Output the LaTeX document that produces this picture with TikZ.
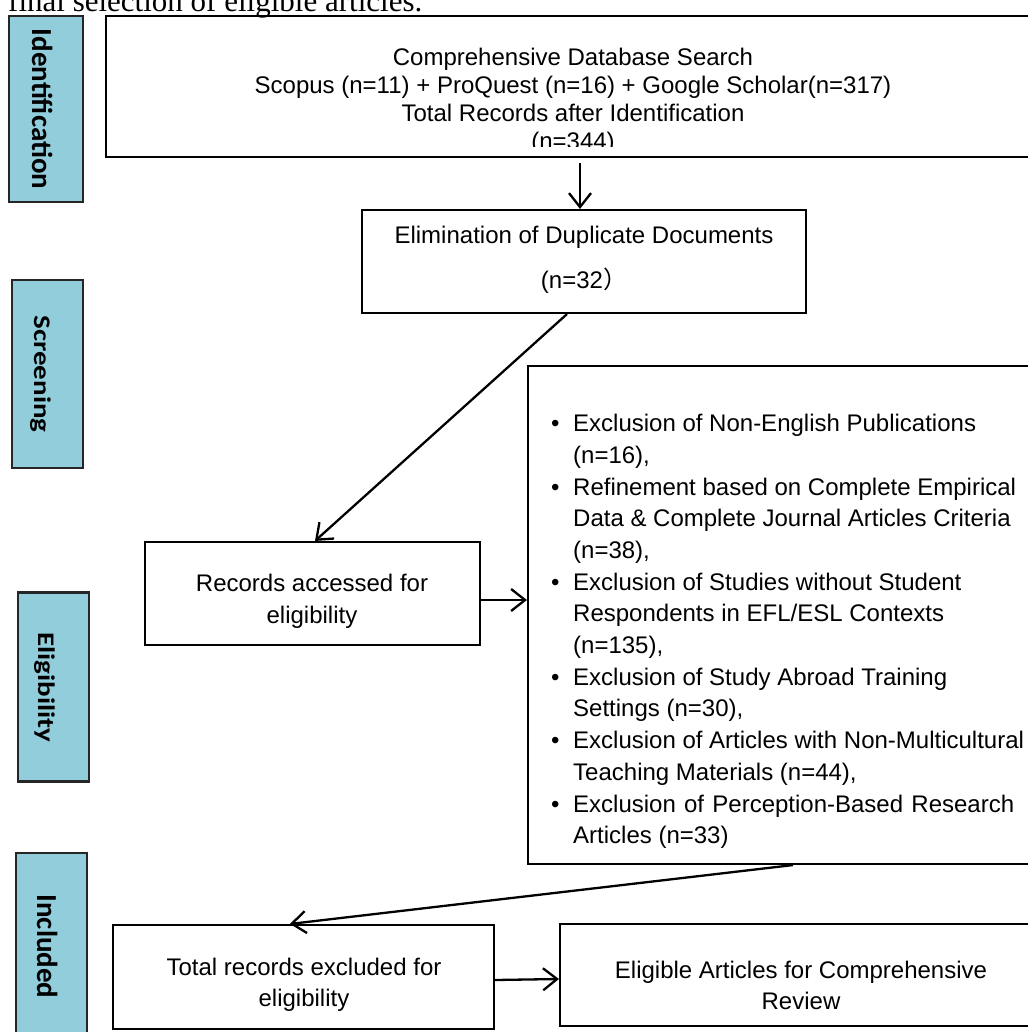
\documentclass[tikz,border=0pt]{standalone}
\usepackage{fontspec}
\setmainfont{Liberation Sans}
\newfontfamily\capfont{Liberation Serif}
\newfontfamily\sidefont{Carlito}
\newfontfamily\cjkfont{Noto Sans CJK SC}
\usetikzlibrary{arrows.meta}
\definecolor{sideblue}{HTML}{92CDDC}
\newcommand{\bul}{\makebox[24pt][l]{\hspace{1.8pt}\textbullet}}
\newcommand{\ind}{\hspace*{24pt}}
\begin{document}
\begin{tikzpicture}[x=1pt,y=-1pt,
  box/.style={draw=black, line width=2.1pt, rectangle, inner sep=0pt},
  side/.style={draw=black!85, line width=2.1pt, fill=sideblue, rectangle, inner sep=0pt},
  sidetxt/.style={font=\sidefont\bfseries\fontsize{29}{29}\selectfont, rotate=-90, anchor=base, inner sep=0pt},
  txt/.style={font=\fontsize{24}{28}\selectfont, align=center, inner sep=0pt},
  listtxt/.style={font=\fontsize{24}{31.7}\selectfont, align=left, anchor=west, inner sep=0pt},
  arr/.style={line width=2.3pt, -{Straight Barb[length=14pt,width=22pt,line width=2.3pt]}}]
\useasboundingbox (0,0) rectangle (1027,1032);

% caption (cut off at the top)
\node[anchor=base west, inner sep=0pt, font=\capfont\fontsize{31}{31}\selectfont] (cap) at (8,12) {final selection of eligible articles.};

% side labels
\node[side, minimum width=74pt, minimum height=186pt] (sid) at (46,109) {};
\node[sidetxt] (sidT) at (32,109) {Identification};
\node[side, minimum width=71pt, minimum height=188pt] (sscr) at (47.5,374) {};
\node[sidetxt, yscale=0.82] (sscrT) at (34,374) {Screening};
\node[side, minimum width=71pt, minimum height=189pt] (selig) at (53.5,687) {};
\node[sidetxt, yscale=0.82] (seligT) at (38,687.5) {Eligibility};
\node[side, minimum width=71pt, minimum height=186pt] (sinc) at (51.5,946) {};
\node[sidetxt] (sincT) at (37,946.5) {Included};

% top box
\node[box, minimum width=934pt, minimum height=141pt] (top) at (573,86.5) {};
\begin{scope}
\clip (107,17) rectangle (1039,147);
\node[txt] (topT) at (573,101.5) {Comprehensive Database Search\\Scopus (n=11) + ProQuest (n=16) + Google Scholar(n=317)\\Total Records after Identification\\(n=344)};
\end{scope}

% duplicates
\node[box, minimum width=444pt, minimum height=103pt] (dup) at (584,261.5) {};
\node[txt, font=\fontsize{24}{45}\selectfont] (dupT) at (584,260) {Elimination of Duplicate Documents\\(n=32{\cjkfont ）}};

% records accessed
\node[box, minimum width=335pt, minimum height=103pt] (rec) at (312.5,593.5) {};
\node[txt, font=\fontsize{24}{32}\selectfont] (recT) at (312,601.5) {Records accessed for\\eligibility};

% exclusion list
\node[box, minimum width=512pt, minimum height=498pt] (excl) at (784,615) {};
\node[listtxt] (exclT) at (549,631.5) {%
\bul Exclusion of Non-English Publications\\
\ind(n=16),\\
\bul Refinement based on Complete Empirical\\
\ind Data \& Complete Journal Articles Criteria\\
\ind(n=38),\\
\bul Exclusion of Studies without Student\\
\ind Respondents in EFL/ESL Contexts\\
\ind(n=135),\\
\bul Exclusion of Study Abroad Training\\
\ind Settings (n=30),\\
\bul Exclusion of Articles with Non-Multicultural\\
\ind Teaching Materials (n=44),\\
\bul\makebox[441pt][s]{Exclusion of Perception-Based Research}\\
\ind Articles (n=33)};

% bottom boxes
\node[box, minimum width=381pt, minimum height=104pt] (tot) at (303.5,977) {};
\node[txt, font=\fontsize{24}{31}\selectfont] (totT) at (304,984.5) {Total records excluded for\\eligibility};
\node[box, minimum width=480pt, minimum height=102pt] (elig) at (800,975) {};
\node[txt, font=\fontsize{24}{31}\selectfont] (eligT) at (801,985) {Eligible Articles for Comprehensive\\Review};

% connectors
\draw[arr] ([xshift=7pt,yshift=-5pt]top.south) -- ([xshift=-4pt]dup.north);
\draw[arr] ([xshift=-17pt]dup.south) -- ([xshift=2.5pt]rec.north);
\draw[arr] ([yshift=-6.5pt]rec.east) -- ([yshift=-6.5pt]rec.east -| excl.west);
\draw[arr] ([xshift=9pt]excl.south) -- ([xshift=-13.5pt]tot.north);
\draw[arr] ([yshift=-3pt]tot.east) -- ([yshift=-4pt]elig.west);
\end{tikzpicture}
\end{document}
